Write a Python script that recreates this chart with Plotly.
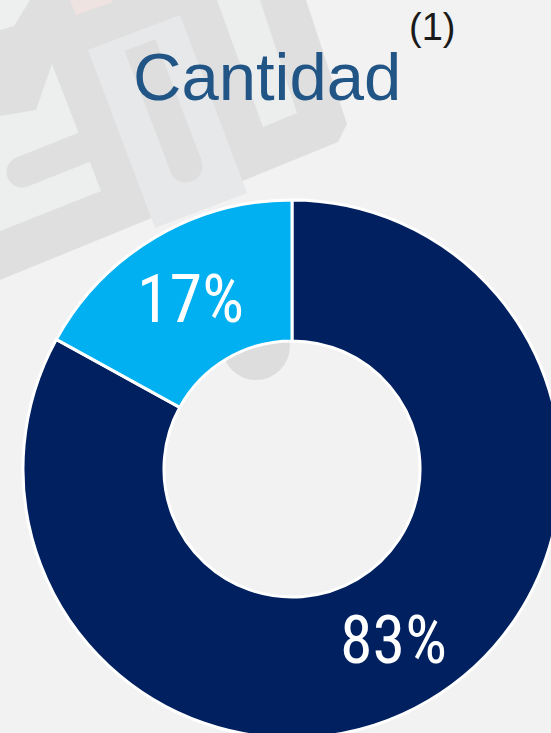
import math
import plotly.graph_objects as go

# Data
labels = ["Grupo A", "Grupo B"]
values = [83, 17]
colors = ["#002060", "#00b0f0"]
title_text = "Cantidad"
note_text = "(1)"

W, H = 600, 780
# pie placement (pixels)
cx, cy, R = 292, 469, 269
HOLE = 0.476

fig = go.Figure()
fig.add_trace(go.Pie(
    labels=labels,
    values=values,
    sort=False,
    direction="clockwise",
    rotation=0,
    hole=HOLE,
    marker=dict(colors=colors, line=dict(color="white", width=3)),
    textinfo="none",
    showlegend=False,
    hoverinfo="skip",
    domain=dict(x=[(cx - R) / W, (cx + R) / W], y=[1 - (cy + R) / H, 1 - (cy - R) / H]),
))

# percentage labels at the middle of each ring segment (derived from the values)
total = sum(values)
cum = 0.0
r_mid = R * (1 + HOLE) / 2
for v in values:
    mid = (cum + v / 2) / total * 2 * math.pi
    cum += v
    px = cx + r_mid * math.sin(mid)
    py = cy - r_mid * math.cos(mid)
    fig.add_annotation(text=f"{v / total:.0%}", x=px / W, y=1 - (py + 1) / H,
                       xref="paper", yref="paper", xanchor="center", yanchor="middle",
                       showarrow=False,
                       font=dict(family="Roboto Condensed, DejaVu Sans Condensed, sans-serif",
                                 size=66, color="white"))

fig.add_annotation(text=title_text, x=267 / W, y=1 - 77 / H, xref="paper", yref="paper",
                   xanchor="center", yanchor="middle", showarrow=False,
                   font=dict(family="Liberation Sans, Arial, sans-serif", size=67, color="#215586"))
fig.add_annotation(text=note_text, x=432 / W, y=1 - 27 / H, xref="paper", yref="paper",
                   xanchor="center", yanchor="middle", showarrow=False,
                   font=dict(family="Liberation Sans, Arial, sans-serif", size=38, color="#1a1a1a"))

# faint background watermark (decorative)
def poly(pts, color):
    d = "M " + " L ".join(f"{x},{y}" for x, y in pts) + " Z"
    fig.add_shape(type="path", path=d, xref="x", yref="y", layer="below",
                  fillcolor=color, line=dict(width=0))

def band(p0, p1, w, color, round_end=False):
    (x0, y0), (x1, y1) = p0, p1
    L = math.hypot(x1 - x0, y1 - y0)
    nx, ny = -(y1 - y0) / L * w / 2, (x1 - x0) / L * w / 2
    poly([(x0 + nx, y0 + ny), (x1 + nx, y1 + ny), (x1 - nx, y1 - ny), (x0 - nx, y0 - ny)], color)
    if round_end:
        fig.add_shape(type="circle", xref="x", yref="y", layer="below",
                      x0=x1 - w / 2, x1=x1 + w / 2, y0=y1 - w / 2, y1=y1 + w / 2,
                      fillcolor=color, line=dict(width=0))

DARK = "#dfdfdf"
poly([(0, 0), (306, 0), (347, 124), (338, 142), (0, 280)], DARK)
poly([(0, 0), (30, 0), (14, 26), (0, 30)], "#eef0f0")
poly([(0, 116), (36, 110), (52, 64), (101, 191), (0, 231)], "#edefef")
poly([(88, 50), (180, 15), (247, 193), (155, 228)], "#e7e8e9")
poly([(217, 0), (260, 0), (297, 113), (263, 127)], "#eceeee")
poly([(70, 0), (112, 0), (113, 2), (76, 15)], "#eee3e1")
band((110, 137), (22, 172), 31, DARK, round_end=True)
band((140, 45), (186, 166), 33, "#dedede", round_end=True)
band((230, 250), (256, 346), 68, "#dddddd", round_end=True)

fig.update_layout(
    width=W, height=H,
    margin=dict(l=0, r=0, t=0, b=0),
    paper_bgcolor="#f2f2f2",
    plot_bgcolor="#f2f2f2",
    xaxis=dict(range=[0, W], visible=False, fixedrange=True),
    yaxis=dict(range=[H, 0], visible=False, fixedrange=True),
)

fig.write_html("out.html", config={"displayModeBar": False},
               post_script="document.body.style.margin='0';document.body.style.overflow='hidden';document.documentElement.style.overflow='hidden';")
